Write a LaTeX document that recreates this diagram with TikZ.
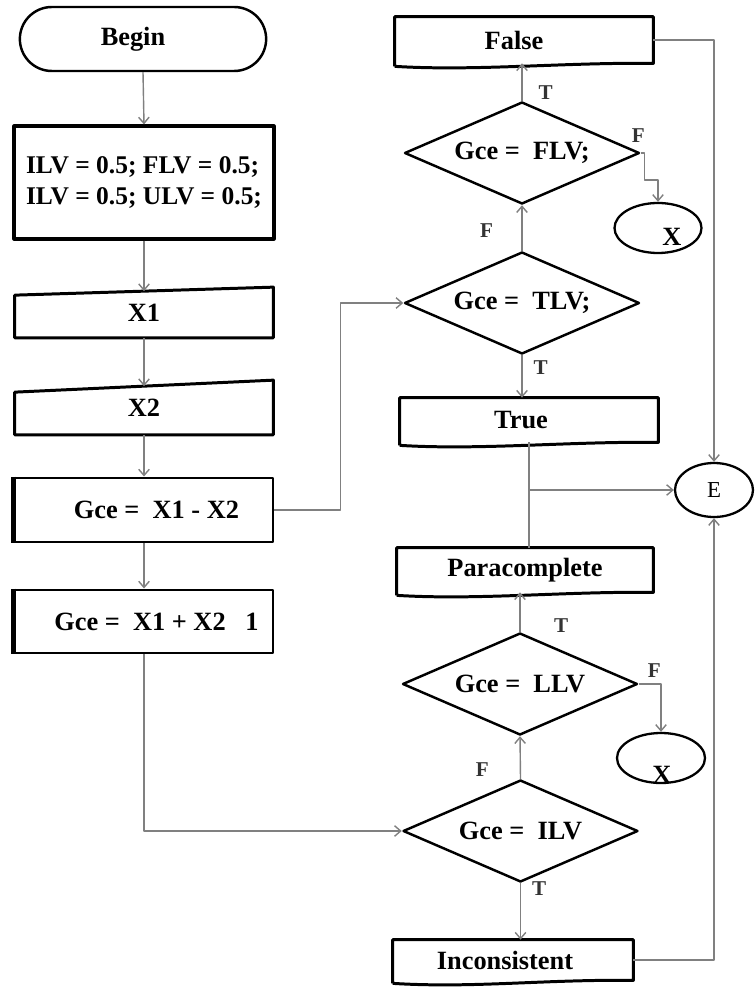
\documentclass[tikz,border=0pt]{standalone}
\usepackage{fontspec}
\setmainfont{Liberation Serif}
\usetikzlibrary{shapes.geometric,shapes.misc,arrows.meta,calc}
\definecolor{linegray}{RGB}{128,128,128}
% document shape with a wavy lower edge
\newcommand{\docshape}[1]{\draw[line width=1.7pt] ($(#1.south west)+(0,-0.06)$) -- (#1.north west) -- (#1.north east) -- (#1.south east) .. controls +(-1.8,0.02) and +(1.6,-0.1) .. ($(#1.south west)+(0,-0.06)$);}
\begin{document}
\begin{tikzpicture}[>={Straight Barb[length=3.5pt,width=6pt]}, font=\fontsize{15}{18}\selectfont\bfseries, line join=round,
	box/.style={rectangle, minimum width=5.16cm, inner sep=2pt},
	dia/.style={diamond, draw, line width=1.4pt, aspect=2.3, minimum width=4.7cm, minimum height=2.04cm, inner sep=0pt},
	oval/.style={ellipse, draw, line width=1.3pt},
	conn/.style={->, draw=linegray, line width=0.8pt},
	lab/.style={font=\fontsize{12}{14}\selectfont\bfseries, text=black!80}]
	\useasboundingbox (0,0) rectangle (15.1,-19.78);
	% left column
	\node[rounded rectangle, draw, line width=1.4pt, minimum width=5.16cm, minimum height=1.28cm] (begin) at (2.86,-0.78) {Begin\hspace*{0.4cm}};
	\node[box, draw, line width=1.8pt, minimum width=5.2cm, minimum height=2.26cm, align=left, font=\fontsize{14.5}{17.5}\selectfont\bfseries] (init) at (2.88,-3.65) {ILV = 0.5; FLV = 0.5;\\ILV = 0.5; ULV = 0.5;};
	\node[box, minimum height=1.0cm] (x1) at (2.88,-6.25) {X1};
	\draw[line width=1.7pt] ($(x1.north west)+(0,-0.16)$) -- (x1.north east) -- (x1.south east) -- (x1.south west) -- cycle;
	\node[box, minimum height=1.08cm] (x2) at (2.88,-8.15) {X2};
	\draw[line width=1.7pt] ($(x2.north west)+(0,-0.24)$) -- (x2.north east) -- (x2.south east) -- (x2.south west) -- cycle;
	\node[box, draw, line width=1.7pt, minimum height=1.28cm] (gcea) at (2.88,-10.2) {\hspace*{0.5cm}Gce =\ \ X1 - X2};
	\draw[line width=3pt] (gcea.north west) -- (gcea.south west);
	\node[box, draw, line width=1.7pt, minimum height=1.26cm] (gceb) at (2.88,-12.43) {\hspace*{0.5cm}Gce =\ \ X1 + X2\ \ \ 1};
	\draw[line width=3pt] (gceb.north west) -- (gceb.south west);
	% right column
	\node[box, minimum height=0.92cm] (false) at (10.48,-0.8) {False\hspace*{0.4cm}};
	\docshape{false}
	\node[dia] (flv) at (10.44,-3.06) {Gce =\ \ FLV;};
	\node[oval, minimum width=1.74cm, minimum height=1.0cm] (xa) at (13.16,-4.56) {};
	\node at (13.44,-4.74) (xatext) {X};
	\node[dia] (tlv) at (10.44,-6.06) {Gce =\ \ TLV;};
	\node[box, minimum height=0.88cm] (true) at (10.58,-8.4) {True\hspace*{0.32cm}};
	\docshape{true}
	\node[oval, minimum width=1.56cm, minimum height=1.08cm, font=\fontsize{13}{15}\selectfont\mdseries] (e) at (14.28,-9.8) {E};
	\node[box, minimum width=5.12cm, minimum height=0.88cm] (para) at (10.5,-11.4) {Paracomplete};
	\docshape{para}
	\node[dia] (llv) at (10.4,-13.68) {Gce =\ \ LLV};
	\node[oval, minimum width=1.76cm, minimum height=1.0cm] (xb) at (13.22,-15.16) {};
	\node at (13.24,-15.5) (xbtext) {X};
	\node[dia] (ilv) at (10.41,-16.62) {Gce =\ \ ILV};
	\node[box, minimum width=4.8cm, minimum height=0.8cm] (inc) at (10.26,-19.2) {Inconsistent\hspace*{0.32cm}};
	\docshape{inc}
	% connectors
	\draw[conn] (begin.south) -- (init.north);
	\draw[conn] (init.south) -- ($(x1.north)+(0,-0.08)$);
	\draw[conn] (x1.south) -- ($(x2.north)+(0,-0.12)$);
	\draw[conn] (x2.south) -- (gcea.north);
	\draw[conn] (gcea.south) -- (gceb.north);
	\draw[conn] (gcea.east) -- ++(1.32,0) |- (tlv.west);
	\draw[conn] (gceb.south) |- (ilv.west);
	\draw[conn] (tlv.north) -- (flv.south) node[lab, pos=0.45, left=0.45cm] {F};
	\draw[conn] (flv.north) -- (false.south -| flv.north) node[lab, pos=0.22, right=0.2cm] {T};
	\draw[conn] (flv.east) node[lab, above left=2pt, xshift=8pt] {F} -- ++(0.08,0) -- ++(0,-0.54) -| (xa.north);
	\draw[conn] (tlv.south) -- (true.north -| tlv.south) node[lab, pos=0.3, right=0.1cm] {T};
	\draw[draw=linegray, line width=0.8pt] (true.south) -- (true.south |- para.north);
	\draw[conn] (true.south |- e.west) -- (e.west);
	\draw[conn] (llv.north) -- (para.south -| llv.north) node[lab, pos=0.15, right=0.55cm] {T};
	\draw[conn] (llv.east) -| (xb.north) node[lab, pos=0.35, above] {F};
	\draw[conn] (ilv.north) -- (llv.south) node[lab, pos=0.22, left=0.5cm] {F};
	\draw[conn] (ilv.south) -- (ilv.south |- inc.north) node[lab, pos=0.1, right=0.1cm] {T};
	\draw[conn] (false.east) -| (e.north);
	\draw[conn] (inc.east) -| (e.south);
\end{tikzpicture}
\end{document}
